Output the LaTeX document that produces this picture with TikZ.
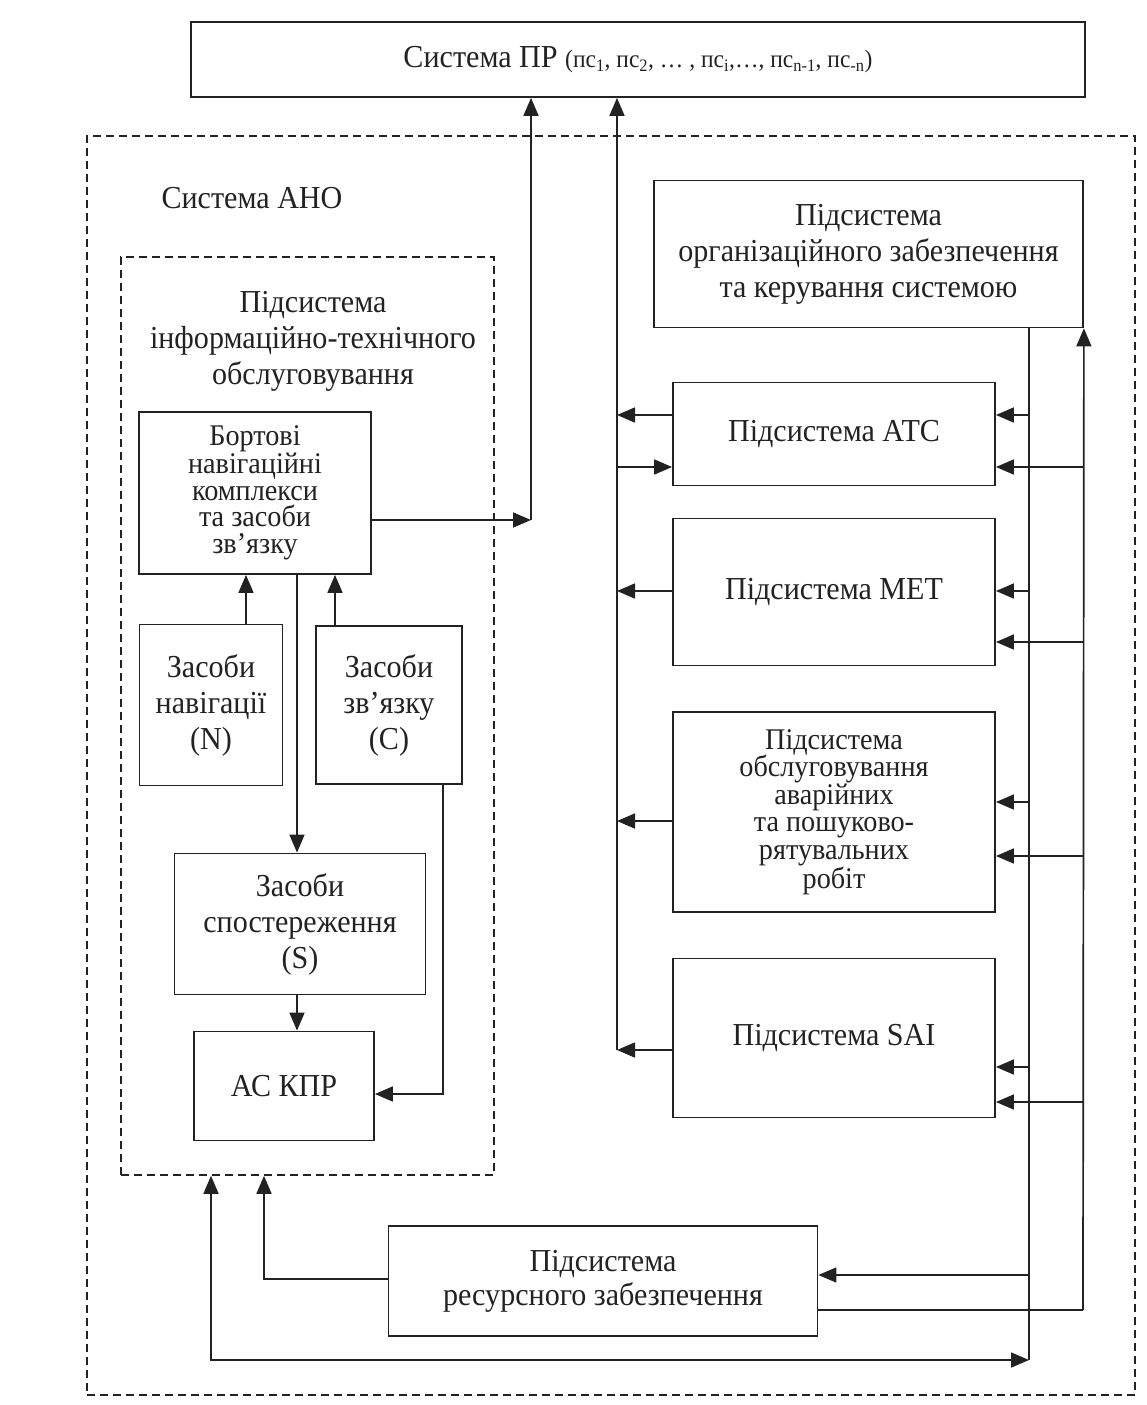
\documentclass[tikz,border=0pt]{standalone}
\usepackage{fontspec}
\setmainfont{Liberation Serif}[FakeStretch=0.94]
\usetikzlibrary{arrows.meta}
\definecolor{ink}{RGB}{34,34,34}
\newcommand\myfs{\fontsize{32}{36}\selectfont}
\begin{document}
\begin{tikzpicture}[x=1pt, y=-1pt,
  box/.style={draw=ink, line width=1.8pt, inner sep=0pt, align=center, text=ink, font=\myfs},
  dashbox/.style={draw=ink, line width=1.6pt, dash pattern=on 8pt off 5pt, inner sep=0pt},
  lbl/.style={text=ink, font=\myfs, align=center, inner sep=0pt},
  ln/.style={draw=ink, line width=1.7pt},
  arr/.style={draw=ink, line width=1.7pt, -{Triangle[length=18pt,width=15pt]}},
  darr/.style={draw=ink, line width=1.7pt, {Triangle[length=18pt,width=15pt]}-{Triangle[length=18pt,width=15pt]}}]
\fill[white] (0,0) rectangle (1146,1405);
\useasboundingbox (0,0) rectangle (1146,1405);

% top system
\node[box, minimum width=894pt, minimum height=75pt] (top) at (638,59.5)
  {\fontsize{32}{36}\selectfont Система ПР {\fontsize{25}{30}\selectfont(пс\textsubscript{1}, пс\textsubscript{2}, \ldots\ , пс\textsubscript{i},\ldots, пс\textsubscript{n-1}, пс\textsubscript{-n})}};

% dashed containers
\node[dashbox, minimum width=1048pt, minimum height=1259pt] (ano) at (611,765.5) {};
\node[lbl] (anolbl) at (252,198) {Система АНО};
\node[dashbox, minimum width=373pt, minimum height=918pt] (ito) at (307.5,716) {};
\node[lbl] (itolbl) at (313,341) {Підсистема\\інформаційно-технічного\\обслуговування};

% left column
\node[box, minimum width=232pt, minimum height=162pt, font={\fontsize{30}{26.5}\selectfont}] (bort) at (255,493)
  {Бортові\\навігаційні\\комплекси\\та засоби\\зв'язку};
\node[box, minimum width=143pt, minimum height=161pt] (nav) at (211,705) {Засоби\\навігації\\(N)};
\node[box, minimum width=146pt, minimum height=158pt] (com) at (389,705) {Засоби\\зв'язку\\(C)};
\node[box, minimum width=251pt, minimum height=141pt] (sur) at (300,924) {Засоби\\спостереження\\(S)};
\node[box, minimum width=180pt, minimum height=109pt] (kpr) at (284,1086) {АС КПР};

% right column
\node[box, minimum width=429pt, minimum height=147pt] (org) at (868.5,254)
  {Підсистема\\організаційного забезпечення\\та керування системою};
\node[box, minimum width=322pt, minimum height=103pt] (atc) at (834,434) {Підсистема АТС};
\node[box, minimum width=322pt, minimum height=147pt] (met) at (834,592) {Підсистема МЕТ};
\node[box, minimum width=322pt, minimum height=200pt, font={\fontsize{30}{27.6}\selectfont}] (sar) at (834,812)
  {Підсистема\\обслуговування\\аварійних\\та пошуково-\\рятувальних\\робіт};
\node[box, minimum width=322pt, minimum height=159pt] (sai) at (834,1038) {Підсистема SAI};
\node[box, minimum width=429pt, minimum height=110pt, font={\fontsize{32}{34}\selectfont}] (res) at (603,1281)
  {Підсистема\\ресурсного забезпечення};

% vertical line positions and levels
\coordinate (V1) at (1029,0);
\coordinate (V2) at (1083,0);
\coordinate (V3) at (617,0);
\coordinate (V4) at (531,520);
\coordinate (ya1) at (0,415);  \coordinate (ya2) at (0,467);
\coordinate (ym1) at (0,591);  \coordinate (ym2) at (0,642);
\coordinate (ys1) at (0,802);  \coordinate (ys2) at (0,856);
\coordinate (ysl) at (0,821);
\coordinate (yi1) at (0,1067); \coordinate (yi2) at (0,1102);
\coordinate (yil) at (0,1050);
\coordinate (yr1) at (0,1275); \coordinate (yr2) at (0,1310);
\coordinate (bot) at (211,1360);
\coordinate (rl) at (264,1279);
\coordinate (cd) at (443,1094);
\coordinate (bsx) at (297,0);
\coordinate (nx) at (246,0);
\coordinate (cx) at (335,0);

% left column links
\draw[arr] (nav.north -| nx) -- (bort.south -| nx);
\draw[arr] (com.north -| cx) -- (bort.south -| cx);
\draw[arr] (bort.south -| bsx) -- (sur.north -| bsx);
\draw[arr] (sur.south -| bsx) -- (kpr.north -| bsx);
\draw[arr] (com.south -| cd) -- (cd) -- (kpr.east |- cd);
\draw[arr] (bort.east |- V4) -- (V4);
\draw[arr] (V4) -- (V4 |- top.south);

% line into system PR from subsystems
\draw[arr] (V3 |- yil) -- (V3 |- top.south);
\draw[arr] (atc.west |- ya1) -- (V3 |- ya1);
\draw[arr] (V3 |- ya2) -- (atc.west |- ya2);
\draw[arr] (met.west |- ym1) -- (V3 |- ym1);
\draw[arr] (sar.west |- ysl) -- (V3 |- ysl);
\draw[arr] (sai.west |- yil) -- (V3 |- yil);

% organisational distribution line V1
\draw[ln] (org.south -| V1) -- (V1 |- bot);
\draw[arr] (V1 |- ya1) -- (atc.east |- ya1);
\draw[arr] (V1 |- ym1) -- (met.east |- ym1);
\draw[arr] (V1 |- ys1) -- (sar.east |- ys1);
\draw[arr] (V1 |- yi1) -- (sai.east |- yi1);
\draw[arr] (V1 |- yr1) -- (res.east |- yr1);

% resource distribution line V2
\draw[ln] (res.east |- yr2) -- (V2 |- yr2);
\draw[arr] (V2 |- yr2) -- (org.south east);
\draw[arr] (V2 |- ya2) -- (atc.east |- ya2);
\draw[arr] (V2 |- ym2) -- (met.east |- ym2);
\draw[arr] (V2 |- ys2) -- (sar.east |- ys2);
\draw[arr] (V2 |- yi2) -- (sai.east |- yi2);

% resource to ITO and bottom loop
\draw[arr] (res.west |- rl) -- (rl) -- (rl |- ito.south);
\draw[darr] (bot |- ito.south) -- (bot) -- (V1 |- bot);
\end{tikzpicture}
\end{document}
